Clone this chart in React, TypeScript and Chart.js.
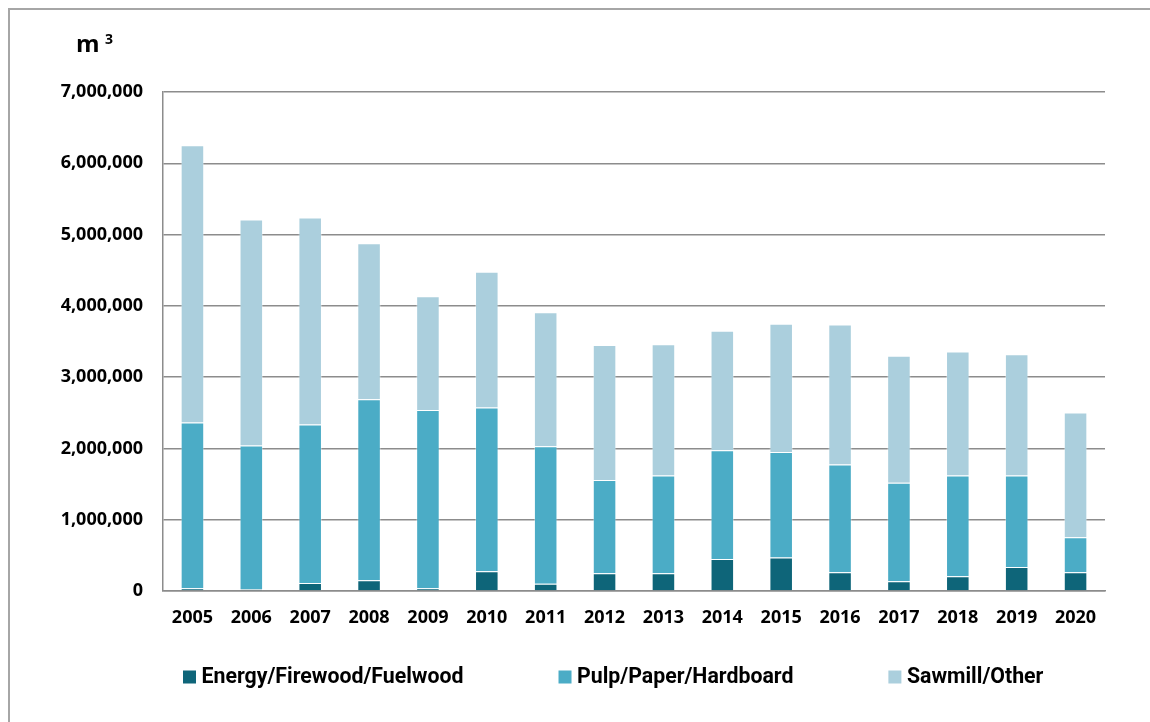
import React, { useEffect, useRef } from "react";
import { Chart, registerables } from "chart.js";

Chart.register(...registerables);

const years = ["2005", "2006", "2007", "2008", "2009", "2010", "2011", "2012", "2013", "2014", "2015", "2016", "2017", "2018", "2019", "2020"];
const energy = [38000, 24000, 112000, 150000, 38000, 276000, 100000, 250000, 250000, 450000, 470000, 262000, 136000, 206000, 337000, 262000];
const pulp = [2326000, 2016000, 2224000, 2540000, 2502000, 2299000, 1930000, 1306000, 1370000, 1526000, 1480000, 1514000, 1384000, 1414000, 1283000, 491000];
const sawmill = [3890000, 3170000, 2904000, 2190000, 1596000, 1905000, 1880000, 1894000, 1840000, 1674000, 1800000, 1964000, 1780000, 1740000, 1700000, 1752000];
const seriesNames = ["Energy/Firewood/Fuelwood", "Pulp/Paper/Hardboard", "Sawmill/Other"];
const seriesColors = ["#0e6579", "#4bacc6", "#abcfdd"];
const yTicks = [0, 1000000, 2000000, 3000000, 4000000, 5000000, 6000000, 7000000];
const unitLabel = "m";
const unitSup = "3";

const GRID = "#8c8c8c";

const unitPlugin = {
  id: "unitLabel",
  afterDraw(chart: any) {
    const { ctx, chartArea } = chart;
    ctx.save();
    ctx.fillStyle = "#000";
    ctx.textAlign = "left";
    ctx.textBaseline = "alphabetic";
    ctx.font = "bold 24px 'Open Sans'";
    ctx.fillText(unitLabel, chartArea.left - 87, chartArea.top - 40.3);
    ctx.font = "bold 14px 'Open Sans'";
    ctx.fillText(unitSup, chartArea.left - 58, chartArea.top - 48);
    ctx.restore();
  },
};

const legendPlugin = {
  id: "customLegend",
  afterDraw(chart: any) {
    const { ctx, chartArea } = chart;
    ctx.save();
    ctx.font = "bold 21.3px Roboto";
    ctx.textAlign = "left";
    ctx.textBaseline = "middle";
    const cy = chartArea.bottom + 86;
    let x = chartArea.left + 20;
    chart.data.datasets.forEach((ds: any) => {
      ctx.fillStyle = ds.backgroundColor;
      ctx.fillRect(x, cy - 6.5, 13, 13);
      ctx.fillStyle = "#000";
      const tx = x + 18.5;
      ctx.fillText(ds.label, tx, cy + 1);
      x = tx + ctx.measureText(ds.label).width + 95;
    });
    ctx.restore();
  },
};

export default function App() {
  const ref = useRef<HTMLCanvasElement | null>(null);

  useEffect(() => {
    if (!ref.current) return;
    const chart = new Chart(ref.current, {
      type: "bar",
      data: {
        labels: years,
        datasets: [energy, pulp, sawmill].map((d, i) => ({
          label: seriesNames[i],
          data: d,
          backgroundColor: seriesColors[i],
          borderColor: "rgba(255,255,255,0.35)",
          borderWidth: 1,
          categoryPercentage: 1,
          barPercentage: 0.4,
        })),
      },
      options: {
        responsive: false,
        animation: false,
        layout: { padding: { top: 82, right: 45, bottom: 91, left: 0 } },
        plugins: {
          legend: { display: false },
          tooltip: { enabled: false },
          title: { display: false },
        },
        scales: {
          x: {
            stacked: true,
            grid: { display: false, drawTicks: false },
            border: { display: true, color: GRID, width: 1.5 },
            ticks: {
              color: "#000",
              padding: 16,
              font: { family: "'Open Sans'", size: 18, weight: "bold" },
              maxRotation: 0,
            },
            afterFit(scale: any) {
              scale.height = 40;
            },
          },
          y: {
            stacked: true,
            min: 0,
            max: 7000000,
            afterBuildTicks(scale: any) {
              scale.ticks = yTicks.map((v) => ({ value: v }));
            },
            grid: { color: GRID, lineWidth: 1.5, drawTicks: false },
            border: { display: true, color: GRID, width: 1.5 },
            ticks: {
              color: "#000",
              padding: 20,
              font: { family: "'Open Sans'", size: 18, weight: "bold" },
              callback: (v: any) => Number(v).toLocaleString("en-US"),
            },
            afterFit(scale: any) {
              scale.width = 153;
            },
          },
        },
      },
      plugins: [unitPlugin, legendPlugin],
    });
    return () => chart.destroy();
  }, []);

  return (
    <div
      style={{
        position: "fixed",
        left: 8,
        top: 8,
        width: 1142,
        height: 714,
        overflow: "hidden",
        borderTop: "2px solid #a6a6a6",
        borderLeft: "2px solid #a6a6a6",
        boxSizing: "border-box",
        background: "#fff",
      }}
    >
      <canvas ref={ref} width={1140} height={712} style={{ position: "absolute", left: 0, top: 0 }} />
    </div>
  );
}
